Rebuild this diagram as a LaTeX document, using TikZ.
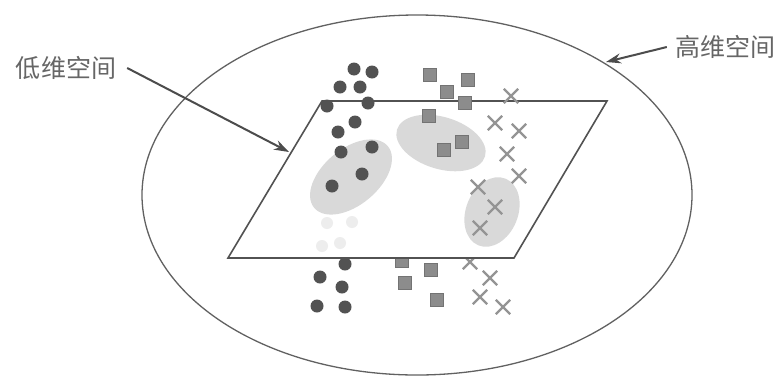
\documentclass[tikz,border=0pt]{standalone}
\usepackage{fontspec}
\newfontfamily\cjk{Noto Sans CJK SC}
\usetikzlibrary{arrows.meta,shapes.geometric,shapes.misc}
\begin{document}
\begin{tikzpicture}[x=1pt,y=-1pt,
  dot/.style={circle,fill=black!68,inner sep=0pt,minimum size=13pt},
  sq/.style={rectangle,fill=black!45,draw=black!55,line width=0.6pt,inner sep=0pt,minimum size=12.5pt},
  xm/.style={cross out,draw=black!42,line width=2.3pt,inner sep=0pt,minimum size=12pt},
  ghost/.style={circle,fill=black!7,inner sep=0pt,minimum size=12pt},
  blob/.style={fill=black!15},
  lbl/.style={font={\cjk\fontsize{25}{25}\selectfont},text=black!60,inner sep=0pt},
  arr/.style={draw=black!70,line width=2pt,-{Stealth[length=15pt,width=10pt]}},
  planeline/.style={draw=black!68,line width=1.6pt,line join=miter}]
\useasboundingbox[fill=white] (0,0) rectangle (783,378);

% big ellipse (high-dimensional space)
\node[ellipse,draw=black!62,line width=1.3pt,inner sep=0pt,minimum width=550pt,minimum height=360pt] (big) at (417,195) {};

% points behind / below the plane
\node[dot] (c13) at (345,264) {};
\node[dot] (c14) at (320,277) {};
\node[dot] (c15) at (342,287) {};
\node[dot] (c16) at (317,306) {};
\node[dot] (c17) at (345,307) {};
\node[sq] (s8) at (402,261) {};
\node[sq] (s9) at (431,270) {};
\node[sq] (s10) at (405,283) {};
\node[sq] (s11) at (437,300) {};
\node[xm] (x7) at (470,262) {};
\node[xm] (x8) at (490,278) {};
\node[xm] (x9) at (480,297) {};
\node[xm] (x10) at (503,307) {};

% the plane (low-dimensional space)
\coordinate (p1) at (322,101);
\coordinate (p2) at (607,101);
\coordinate (p3) at (514,258);
\coordinate (p4) at (228,258);
\fill[white] (p1) -- (p2) -- (p3) -- (p4) -- cycle;

% shaded regions
\fill[blob,shift={(351,177)},rotate=40] (0,0) ellipse (48 and 28);
\fill[blob,shift={(441,143)},rotate=-17] (0,0) ellipse (46 and 26);
\fill[blob,shift={(492,212)},rotate=68] (0,0) ellipse (36 and 26);

% faint projected points
\node[ghost] (g1) at (327,223) {};
\node[ghost] (g2) at (352,222) {};
\node[ghost] (g3) at (340,243) {};
\node[ghost] (g4) at (322,246) {};

\draw[planeline] (p1) -- (p2) -- (p3) -- (p4) -- cycle;

% points in front
\node[dot] (c1) at (354,69) {};
\node[dot] (c2) at (372,72) {};
\node[dot] (c3) at (340,87) {};
\node[dot] (c4) at (360,87) {};
\node[dot] (c5) at (327,106) {};
\node[dot] (c6) at (368,103) {};
\node[dot] (c7) at (355,122) {};
\node[dot] (c8) at (338,132) {};
\node[dot] (c9) at (341,152) {};
\node[dot] (c10) at (372,147) {};
\node[dot] (c11) at (362,174) {};
\node[dot] (c12) at (332,186) {};

\node[sq] (s1) at (430,75) {};
\node[sq] (s2) at (468,80) {};
\node[sq] (s3) at (447,92) {};
\node[sq] (s4) at (465,103) {};
\node[sq] (s5) at (429,116) {};
\node[sq] (s6) at (444,150) {};
\node[sq] (s7) at (462,142) {};

\node[xm] (x1) at (511,96) {};
\node[xm] (x2) at (495,123) {};
\node[xm] (x3) at (519,131) {};
\node[xm] (x4) at (507,154) {};
\node[xm] (x5) at (519,176) {};
\node[xm] (x6) at (478,187) {};
\node[xm] (x11) at (495,207) {};
\node[xm] (x12) at (480,228) {};

% labels and arrows
\node[lbl] (low) at (66,68) {低维空间};
\node[lbl] (high) at (725,47) {高维空间};
\coordinate (lowtip) at (289,152);
\coordinate (hightip) at (606,62);
\draw[arr] ([xshift=11pt]low.east) -- (lowtip);
\draw[arr] ([xshift=-8pt]high.west) -- (hightip);
\end{tikzpicture}
\end{document}
